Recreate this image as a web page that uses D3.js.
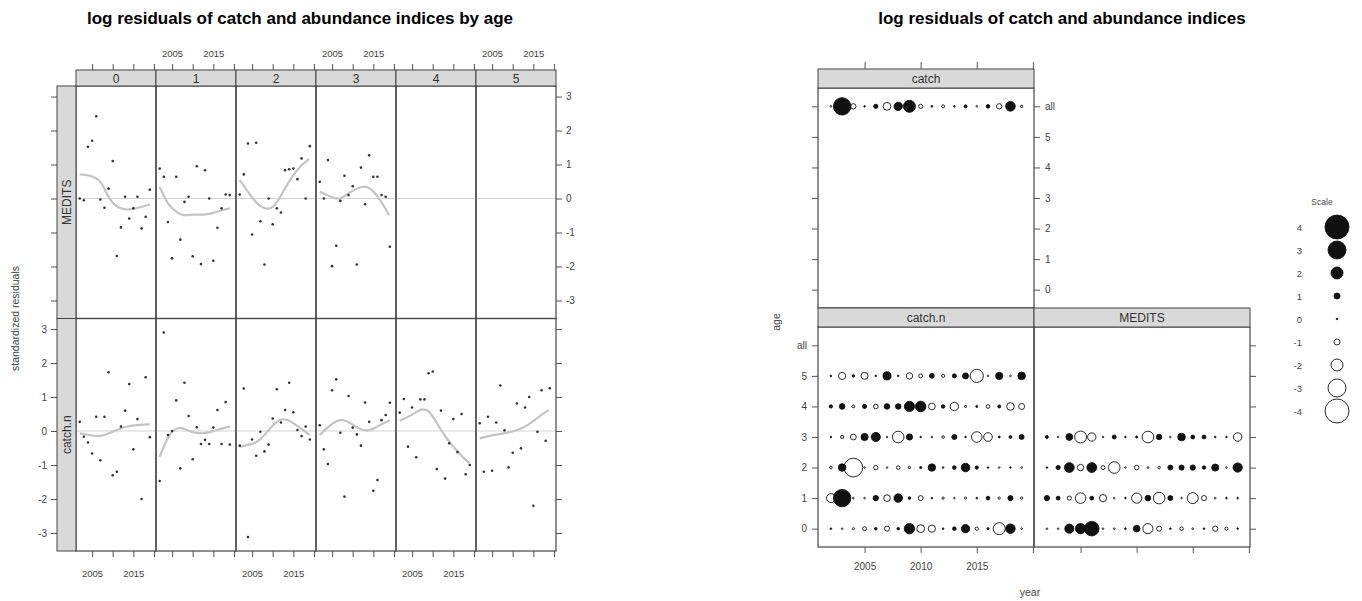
<!DOCTYPE html>
<html>
<head>
<meta charset="utf-8">
<script src="https://cdn.jsdelivr.net/npm/d3@7/dist/d3.min.js"></script>
<style>
  body { margin: 0; background: #fff; }
  text { font-family: "Liberation Sans", Arial, sans-serif; }
</style>
</head>
<body>
<svg id="chart" width="1362" height="601"></svg>
<script>
// ---- data ----
const years = [2002, 2003, 2004, 2005, 2006, 2007, 2008, 2009, 2010,
               2011, 2012, 2013, 2014, 2015, 2016, 2017, 2018, 2019];

const catchAll = [-0.3, 2.9, -0.9, 0.2, 0.7, -1.3, 1.4, 2.0, -0.7, 0.3, -0.5, 0.1, 0.5, -0.2, 0.6, -0.9, 1.6, -0.4];

const catchN0 = [0.27, -0.17, -0.34, -0.66, 0.42, -0.86, 0.42, 1.73, -1.3, -1.2, 0.13, 0.6, 1.38, -0.54, 0.35, -2.0, 1.58, -0.18];
const catchN1 = [-1.47, 2.9, -0.12, 0.0, 0.9, -1.1, 1.42, 0.44, -0.83, 0.11, -0.38, -0.26, -0.38, 0.1, 0.62, -0.38, 0.85, -0.4];
const catchN2 = [-0.43, 1.25, -3.12, -0.25, -0.73, -0.02, -0.6, -0.4, 0.37, 1.23, 0.25, 0.62, 1.42, 0.55, 0.03, -0.15, 0.13, -0.25];
const catchN3 = [0.17, -0.54, -0.97, 1.2, 1.52, -0.05, -1.93, 1.03, 0.1, -0.1, -0.43, 0.84, 0.27, -1.76, -1.44, 0.32, 0.47, 0.83];
const catchN4 = [0.54, 0.94, -0.46, 0.69, -0.77, 0.93, 0.93, 1.7, 1.75, -1.12, 0.6, -1.4, -0.36, 0.35, -0.62, 0.5, -1.27, -1.0];
const catchN5 = [0.23, -1.2, 0.42, -1.17, 0.25, 1.34, 0.02, -1.07, -0.64, 0.81, -0.51, 0.69, 1.0, -2.2, -0.02, 1.2, -0.29, 1.26];

const medits0 = [0.0, -0.05, 1.52, 1.7, 2.42, -0.03, -0.27, 0.29, 1.1, -1.69, -0.85, 0.05, -0.59, -0.29, 0.05, -0.88, -0.54, 0.26];
const medits1 = [0.88, 0.64, -0.69, -1.76, 0.64, -1.21, -0.1, 0.05, -1.7, 0.95, -1.93, 0.83, 0.0, -1.83, -0.86, -0.29, 0.12, 0.1];
const medits2 = [0.12, 0.71, 1.62, -1.06, 1.64, -0.67, -1.94, 0.0, -0.76, -0.29, -0.41, 0.83, 0.86, 0.88, 0.57, 1.18, 0.0, 1.54];
const medits3 = [0.49, 0.0, 1.13, -1.99, -1.39, -0.07, 0.67, 0.1, 0.36, -1.94, 0.91, -0.17, 1.27, 0.64, 0.64, 0.1, 0.05, -1.42];

// smoother curves (year, value)
const smM0 = [[2002, 0.71], [2004.4, 0.69], [2006.8, 0.56], [2008, 0.29], [2009.3, -0.05], [2011.3, -0.29], [2013.7, -0.34], [2015.7, -0.29], [2019, -0.18]];
const smM1 = [[2002, 0.34], [2004, -0.2], [2006, -0.39], [2007.6, -0.52], [2010.1, -0.46], [2013.3, -0.49], [2015.7, -0.39], [2019, -0.29]];
const smM2 = [[2002, 0.54], [2004, 0.2], [2006, -0.15], [2008.5, -0.34], [2010.5, -0.25], [2012.5, 0.2], [2014.9, 0.69], [2016.9, 0.98], [2018.8, 1.16]];
const smM3 = [[2002, 0.2], [2004.4, 0.07], [2006.8, -0.07], [2009.3, 0.2], [2012.9, 0.41], [2014.9, 0.24], [2016.9, -0.07], [2018.8, -0.49]];
const smC0 = [[2002, -0.07], [2004.4, -0.12], [2006.8, -0.17], [2009.3, -0.07], [2011.7, 0.08], [2014.1, 0.15], [2016.5, 0.18], [2019, 0.2]];
const smC1 = [[2002, -0.76], [2003.6, -0.26], [2005.2, 0.03], [2006.8, 0.13], [2008.9, 0.01], [2010.9, -0.07], [2013.3, -0.07], [2015.7, 0.03], [2019, 0.13]];
const smC2 = [[2002, -0.46], [2004.4, -0.41], [2006.8, -0.31], [2009.3, 0.08], [2011.7, 0.37], [2013.7, 0.34], [2015.7, 0.18], [2019, -0.12]];
const smC3 = [[2002, -0.12], [2004.4, 0.18], [2007.6, 0.4], [2010.5, 0.13], [2013.7, -0.05], [2016.5, 0.18], [2019, 0.32]];
const smC4 = [[2002, 0.3], [2005, 0.47], [2007.4, 0.67], [2009, 0.62], [2010.6, 0.32], [2013, -0.17], [2016.3, -0.66], [2018.9, -0.95]];
const smC5 = [[2002, -0.22], [2005, -0.12], [2008.2, -0.07], [2011.4, 0.03], [2013.9, 0.18], [2016.3, 0.42], [2018.7, 0.62]];

const ages = ['0', '1', '2', '3', '4', '5'];
const ageLevels = ['0', '1', '2', '3', '4', '5', 'all'];
const resTicks = [-3, -2, -1, 0, 1, 2, 3];
const yearTicks = [2005, 2010, 2015, 2020];
const legendValues = [4, 3, 2, 1, 0, -1, -2, -3, -4];

// ---- setup ----
const svg = d3.select('#chart');
svg.append('rect').attr('width', 1362).attr('height', 601).attr('fill', '#fff');

const edge = '#444', tickCol = '#555', labCol = '#444', stripFill = '#d9d9d9';
const plain = d => String(d);

function styleAxis(g, fs) {
  g.select('.domain').remove();
  g.selectAll('.tick line').attr('stroke', tickCol);
  g.selectAll('.tick text').attr('fill', labCol).attr('font-size', fs || 10);
}

// ================= left: residuals by age =================
const L = { x0: 76, colW: 80, y0: 86, rowH: 232.5, stripH: 16, sideW: 19 };
const xL = d3.scaleLinear().domain([2001.1, 2020.5]).range([0, L.colW]);
const yL = d3.scaleLinear().domain([-3.53, 3.31]).range([L.rowH, 0]);

const leftRows = [
  { name: 'MEDITS', series: [medits0, medits1, medits2, medits3, null, null], smooth: [smM0, smM1, smM2, smM3, null, null] },
  { name: 'catch.n', series: [catchN0, catchN1, catchN2, catchN3, catchN4, catchN5], smooth: [smC0, smC1, smC2, smC3, smC4, smC5] }
];

svg.append('text').attr('x', 300).attr('y', 24).attr('text-anchor', 'middle')
  .attr('font-size', 17).attr('font-weight', 'bold').text('log residuals of catch and abundance indices by age');

const left = svg.append('g');
const smoothLine = d3.line().x(d => xL(d[0])).y(d => yL(d[1])).curve(d3.curveBasis);

leftRows.forEach((row, r) => {
  const top = L.y0 + r * L.rowH;
  ages.forEach((a, c) => {
    const g = left.append('g').attr('transform', `translate(${L.x0 + c * L.colW},${top})`);
    // reference line at 0
    g.append('line').attr('x1', 0).attr('x2', L.colW).attr('y1', yL(0)).attr('y2', yL(0))
      .attr('stroke', '#d4d4d4').attr('stroke-width', 1);
    if (row.smooth[c]) {
      g.append('path').attr('d', smoothLine(row.smooth[c])).attr('fill', 'none')
        .attr('stroke', '#c4c4c4').attr('stroke-width', 2.2);
    }
    if (row.series[c]) {
      g.selectAll('circle').data(row.series[c]).enter().append('circle')
        .attr('cx', (d, i) => xL(years[i])).attr('cy', d => yL(d))
        .attr('r', 1.3).attr('fill', '#333');
    }
    g.append('rect').attr('width', L.colW).attr('height', L.rowH)
      .attr('fill', 'none').attr('stroke', edge).attr('stroke-width', 1.2);
  });
  // side strip
  const sg = left.append('g').attr('transform', `translate(${L.x0 - L.sideW},${top})`);
  sg.append('rect').attr('width', L.sideW).attr('height', L.rowH)
    .attr('fill', stripFill).attr('stroke', edge).attr('stroke-width', 1);
  sg.append('text').attr('transform', `translate(${L.sideW / 2 + 4},${L.rowH / 2}) rotate(-90)`)
    .attr('text-anchor', 'middle').attr('font-size', 12).attr('fill', '#333').text(row.name);

  // left axis (labels only on bottom row), right axis (labels only on top row)
  const la = left.append('g').attr('transform', `translate(${L.x0 - L.sideW},${top})`)
    .call(d3.axisLeft(yL).tickValues(resTicks).tickSize(6).tickPadding(4)
      .tickFormat(r === 1 ? plain : ''));
  styleAxis(la);
  const ra = left.append('g').attr('transform', `translate(${L.x0 + 6 * L.colW},${top})`)
    .call(d3.axisRight(yL).tickValues(resTicks).tickSize(6).tickPadding(4)
      .tickFormat(r === 0 ? plain : ''));
  styleAxis(ra);
});

// top strips + top / bottom axes
ages.forEach((a, c) => {
  const x = L.x0 + c * L.colW;
  const sg = left.append('g').attr('transform', `translate(${x},${L.y0 - L.stripH})`);
  sg.append('rect').attr('width', L.colW).attr('height', L.stripH)
    .attr('fill', stripFill).attr('stroke', edge).attr('stroke-width', 1);
  sg.append('text').attr('x', L.colW / 2).attr('y', L.stripH / 2 + 4.5).attr('text-anchor', 'middle')
    .attr('font-size', 12).attr('fill', '#333').text(a);

  const lab = d => (d === 2005 || d === 2015) ? d : '';
  const ta = left.append('g').attr('transform', `translate(${x},${L.y0 - L.stripH})`)
    .call(d3.axisTop(xL).tickValues(yearTicks).tickSize(6).tickPadding(7)
      .tickFormat(c % 2 === 1 ? lab : ''));
  styleAxis(ta, 9.5);
  const ba = left.append('g').attr('transform', `translate(${x},${L.y0 + 2 * L.rowH})`)
    .call(d3.axisBottom(xL).tickValues(yearTicks).tickSize(6).tickPadding(13)
      .tickFormat(c % 2 === 0 ? lab : ''));
  styleAxis(ba, 9.5);
});

svg.append('text').attr('transform', `translate(19,${L.y0 + L.rowH}) rotate(-90)`)
  .attr('text-anchor', 'middle').attr('font-size', 10.5).attr('fill', '#444').text('standardized residuals');

// ================= right: bubble plot =================
const R = { x0: 818, panW: 216, panH: 220, topY: 88, botY: 327, stripH: 19 };
const xR = d3.scaleLinear().domain([2000.85, 2020.1]).range([0, R.panW]);
const yR = d3.scaleLinear().domain([0.4, 7.6]).range([R.panH, 0]);
const lvl = k => yR(ageLevels.indexOf(k) + 1);
const rad = v => Math.max(0.8, 3 * Math.abs(v));

svg.append('text').attr('x', 1062).attr('y', 24).attr('text-anchor', 'middle')
  .attr('font-size', 17).attr('font-weight', 'bold').text('log residuals of catch and abundance indices');

const right = svg.append('g');

function bubbles(g, vals, level) {
  g.append('g').selectAll('circle').data(vals).enter().append('circle')
    .attr('cx', (d, i) => xR(years[i])).attr('cy', lvl(level))
    .attr('r', d => rad(d))
    .attr('fill', d => d > 0 ? '#111' : 'none')
    .attr('stroke', '#111').attr('stroke-width', 0.9);
}

const rightPanels = [
  { name: 'catch', x: R.x0, y: R.topY, rows: [['all', catchAll]] },
  { name: 'catch.n', x: R.x0, y: R.botY,
    rows: [['0', catchN0], ['1', catchN1], ['2', catchN2], ['3', catchN3], ['4', catchN4], ['5', catchN5]] },
  { name: 'MEDITS', x: R.x0 + R.panW, y: R.botY,
    rows: [['0', medits0], ['1', medits1], ['2', medits2], ['3', medits3]] }
];

const levelTicks = ageLevels.map((d, i) => i + 1);

rightPanels.forEach(p => {
  const g = right.append('g').attr('transform', `translate(${p.x},${p.y})`);
  p.rows.forEach(rw => bubbles(g, rw[1], rw[0]));
  g.append('rect').attr('width', R.panW).attr('height', R.panH)
    .attr('fill', 'none').attr('stroke', edge).attr('stroke-width', 1.2);
  const sg = right.append('g').attr('transform', `translate(${p.x},${p.y - R.stripH})`);
  sg.append('rect').attr('width', R.panW).attr('height', R.stripH)
    .attr('fill', stripFill).attr('stroke', edge).attr('stroke-width', 1);
  sg.append('text').attr('x', R.panW / 2).attr('y', R.stripH / 2 + 4.5).attr('text-anchor', 'middle')
    .attr('font-size', 12).attr('fill', '#333').text(p.name);
});

const lvlFmt = d => ageLevels[d - 1];
// catch panel: top ticks, left ticks, right labels
styleAxis(right.append('g').attr('transform', `translate(${R.x0},${R.topY - R.stripH})`)
  .call(d3.axisTop(xR).tickValues(yearTicks).tickSize(7).tickFormat('')));
styleAxis(right.append('g').attr('transform', `translate(${R.x0},${R.topY})`)
  .call(d3.axisLeft(yR).tickValues(levelTicks).tickSize(6).tickFormat('')));
styleAxis(right.append('g').attr('transform', `translate(${R.x0 + R.panW},${R.topY})`)
  .call(d3.axisRight(yR).tickValues(levelTicks).tickSize(6).tickPadding(5).tickFormat(lvlFmt)));
// bottom row: left labels, right ticks, bottom ticks
styleAxis(right.append('g').attr('transform', `translate(${R.x0},${R.botY})`)
  .call(d3.axisLeft(yR).tickValues(levelTicks).tickSize(6).tickPadding(5).tickFormat(lvlFmt)));
styleAxis(right.append('g').attr('transform', `translate(${R.x0 + 2 * R.panW},${R.botY})`)
  .call(d3.axisRight(yR).tickValues(levelTicks).tickSize(6).tickFormat('')));
styleAxis(right.append('g').attr('transform', `translate(${R.x0},${R.botY + R.panH})`)
  .call(d3.axisBottom(xR).tickValues(yearTicks).tickSize(6).tickPadding(10)
    .tickFormat(d => d < 2020 ? d : '')));
styleAxis(right.append('g').attr('transform', `translate(${R.x0 + R.panW},${R.botY + R.panH})`)
  .call(d3.axisBottom(xR).tickValues(yearTicks).tickSize(6).tickFormat('')));

svg.append('text').attr('transform', `translate(780,322) rotate(-90)`)
  .attr('text-anchor', 'middle').attr('font-size', 10.5).attr('fill', '#444').text('age');
svg.append('text').attr('x', 1030).attr('y', 596).attr('text-anchor', 'middle')
  .attr('font-size', 10.5).attr('fill', '#444').text('year');

// legend
const lg = svg.append('g').attr('transform', 'translate(1300,205)');
const ly = d3.scalePoint().domain(legendValues).range([22, 206]);
lg.append('text').attr('x', 22).attr('y', 0).attr('text-anchor', 'middle')
  .attr('font-size', 8.5).attr('fill', '#444').text('Scale');
legendValues.forEach(v => {
  lg.append('text').attr('x', 2).attr('y', ly(v) + 3.5).attr('text-anchor', 'end')
    .attr('font-size', 9.5).attr('fill', '#444').text(String(v));
  lg.append('circle').attr('cx', 37).attr('cy', ly(v)).attr('r', rad(v))
    .attr('fill', v >= 0 ? '#111' : 'none')
    .attr('stroke', '#111').attr('stroke-width', 0.9);
});
</script>
</body>
</html>
